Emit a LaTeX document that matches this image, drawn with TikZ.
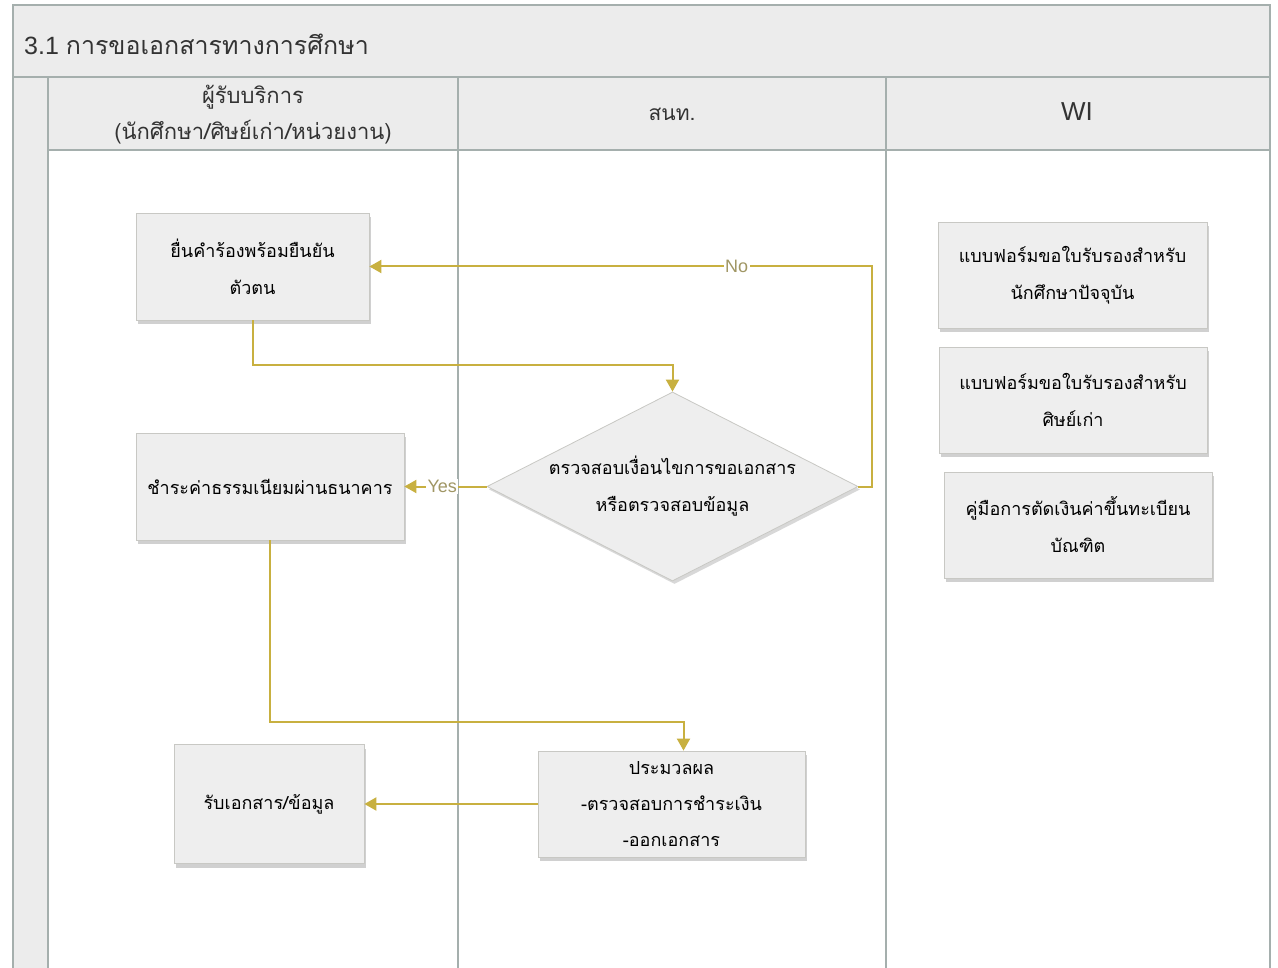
\documentclass[tikz,border=0pt]{standalone}
\usepackage{fontspec}
\setmainfont{Liberation Sans}
\newfontfamily\thai[Script=Thai]{Loma}
\usetikzlibrary{shapes.geometric,shadows,arrows.meta}
\definecolor{frame}{RGB}{165,175,173}
\definecolor{band}{RGB}{236,236,236}
\definecolor{boxfill}{RGB}{238,238,238}
\definecolor{boxline}{RGB}{200,200,196}
\definecolor{gold}{RGB}{200,176,64}
\definecolor{lbl}{RGB}{160,150,100}
\tikzset{
  proc/.style={draw=boxline, fill=boxfill, line width=0.8pt, align=center,
    inner sep=0pt, font=\thai\fontsize{18}{37}\selectfont,
    drop shadow={shadow xshift=2pt, shadow yshift=-4pt, opacity=0.3, fill=black!60}},
  dec/.style={diamond, draw=boxline, fill=boxfill, line width=0.8pt, align=center,
    inner sep=0pt, font=\thai\fontsize{18}{37}\selectfont},
  flow/.style={draw=gold, line width=2pt, -{Triangle[length=12pt,width=13pt]}},
  lab/.style={fill=white, inner sep=1.5pt, text=lbl, font=\fontsize{18}{18}\selectfont},
  lane/.style={draw=frame, line width=1.2pt},
}
\begin{document}
\begin{tikzpicture}[x=1pt,y=-1pt]
\useasboundingbox (0,0) rectangle (1278,968);
\fill[white] (0,0) rectangle (1278,968);
% title band and headers
\fill[band] (13,5) rectangle (1270,77);
\fill[band] (13,77) rectangle (48,968);
\fill[band] (48,77) rectangle (1270,150);
\draw[lane] (13,968) -- (13,5) -- (1270,5) -- (1270,968);
\draw[lane] (13,77) -- (1270,77);
\draw[lane] (48,77) -- (48,968);
\draw[lane] (48,150) -- (1270,150);
\draw[lane] (458,77) -- (458,968);
\draw[lane] (886,77) -- (886,968);
\node[anchor=west, inner sep=0pt, font=\fontsize{25}{25}\selectfont, text=black!80] (title) at (24,44) {3.1 {\thai การขอเอกสารทางการศึกษา}};
\node[align=center, inner sep=0pt, font=\thai\fontsize{22}{36}\selectfont, text=black!80] (h1) at (253,115) {ผู้รับบริการ\\(นักศึกษา/ศิษย์เก่า/หน่วยงาน)};
\node[inner sep=0pt, font=\thai\fontsize{21}{21}\selectfont, text=black!80] (h2) at (672,114) {สนท.};
\node[inner sep=0pt, font=\fontsize{26}{26}\selectfont, text=black!80] (h3) at (1077,112) {WI};
% process nodes
\node[proc, minimum width=233pt, minimum height=107pt] (b1) at (252.5,266.5) {ยื่นคำร้องพร้อมยืนยัน\\ตัวตน};
\node[proc, minimum width=268pt, minimum height=107pt] (b2) at (270,486.5) {ชำระค่าธรรมเนียมผ่านธนาคาร};
\node[proc, minimum width=190pt, minimum height=119pt] (b3) at (269,804) {รับเอกสาร/ข้อมูล};
\node[proc, minimum width=267pt, minimum height=106pt, font=\thai\fontsize{18}{36}\selectfont] (b4) at (671.5,804) {ประมวลผล\\-ตรวจสอบการชำระเงิน\\-ออกเอกสาร};
\node[dec, shape aspect=1.96, minimum width=371pt, minimum height=189pt,
  drop shadow={shadow xshift=2pt, shadow yshift=-3pt, opacity=0.25, fill=black!60}] (dia) at (672.5,486.5) {ตรวจสอบเงื่อนไขการขอเอกสาร\\หรือตรวจสอบข้อมูล};
\node[proc, minimum width=269pt, minimum height=106pt] (w1) at (1072.5,275) {แบบฟอร์มขอใบรับรองสำหรับ\\นักศึกษาปัจจุบัน};
\node[proc, minimum width=268pt, minimum height=106pt] (w2) at (1073,400) {แบบฟอร์มขอใบรับรองสำหรับ\\ศิษย์เก่า};
\node[proc, minimum width=268pt, minimum height=106pt] (w3) at (1078,525) {คู่มือการตัดเงินค่าขึ้นทะเบียน\\บัณฑิต};
% connectors
\draw[flow] (b1.south) -- (b1.south |- 0,365) -| (dia.north);
\draw[flow] (dia.east) -- ++(14,0) |- (b1.east) node[lab, pos=0.635] {No};
\draw[flow] (dia.west) -- (b2.east) node[lab, pos=0.54] {Yes};
\draw[flow] (b2.south) -- (b2.south |- 0,722) -| ([xshift=12pt]b4.north);
\draw[flow] (b4.west) -- (b3.east);
\end{tikzpicture}
\end{document}
